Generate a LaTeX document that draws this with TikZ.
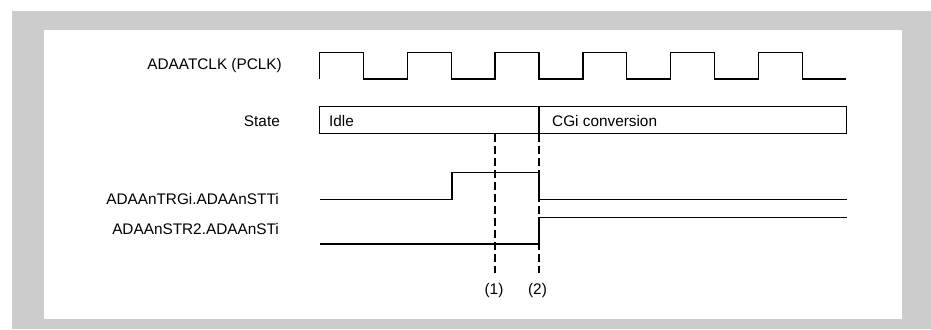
\documentclass[tikz,border=0pt]{standalone}
\usepackage{fontspec}
\setmainfont{Liberation Sans}
\usepackage{xcolor}
\usetikzlibrary{positioning}

\definecolor{framegray}{HTML}{CCCCCC}
\tikzset{
  sig/.style={line width=1.3bp, black},
  marker/.style={line width=1.1bp, dash pattern=on 8bp off 4bp},
  siglabel/.style={anchor=east, inner sep=0pt, font=\fontsize{15.4}{17}\selectfont},
  txt/.style={inner sep=0pt, font=\fontsize{15.4}{17}\selectfont}
}

\begin{document}
\begin{tikzpicture}[x=1bp, y=-1bp]
      \useasboundingbox (0,0) rectangle (931,329);
      \fill[framegray] (12,11) rectangle (931,329);
      \fill[white] (44,30) rectangle (902,319);

      % signal names
      \node[siglabel] (clklab) at (282,65.7) {ADAATCLK (PCLK)};
      \node[siglabel] (statelab) at (280,121.7) {State};
      \node[siglabel] (trglab) at (279,199) {ADAAnTRGi.ADAAnSTTi};
      \node[siglabel] (strlab) at (279,229) {ADAAnSTR2.ADAAnSTi};

      % clock
      \draw[sig] (319.5,79) \foreach \i in {0,...,5} {
          -- ++(0,-26.5) -- ++(43.9,0) -- ++(0,26.5) -- ++(43.9,0)};

      % state
      \draw[sig] (319.5,106.5) rectangle (846.5,133.5);
      \draw[sig] (539,106.5) -- (539,133.5);
      \node[txt, anchor=west] (idle) at (329,121) {Idle};
      \node[txt, anchor=west] (conv) at (552,121) {CGi conversion};

      % trigger and start
      \draw[sig] (319.5,199.3) -- (452,199.3) -- (452,172.7) -- (539,172.7)
                 -- (539,199.3) -- (846.5,199.3);
      \draw[sig] (319.5,244) -- (539,244) -- (539,217.3) -- (846.5,217.3);

      % timing marks
      \node[txt] (m1) at (494,291) {(1)};
      \node[txt] (m2) at (537.5,291) {(2)};
      \draw[marker] (495,134) -- (495,273);
      \draw[marker] (539,134) -- (539,273);
    \end{tikzpicture}
\end{document}
